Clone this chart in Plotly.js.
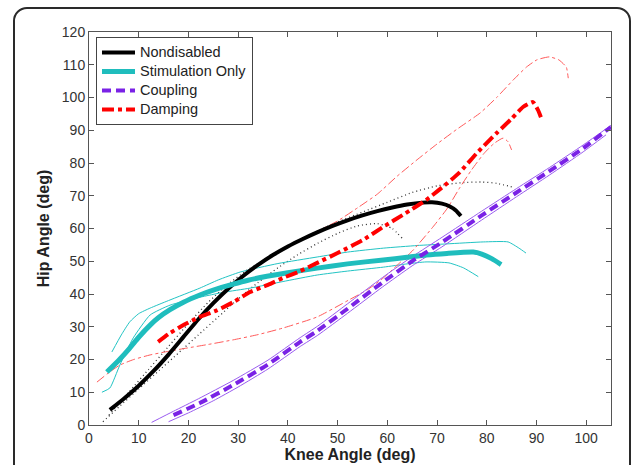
<!DOCTYPE html>
<html>
<head>
<meta charset="utf-8">
<script src="https://cdn.plot.ly/plotly-3.0.1.min.js"></script>
<style>
  html, body { margin: 0; padding: 0; background: #fff; }
  #wrap { position: relative; width: 636px; height: 465px; overflow: hidden; }
  #frame { position: absolute; left: 13px; top: 7px; width: 618px; height: 480px;
           border: 2px solid #2a2a2a; border-radius: 14px; box-sizing: border-box; }
  #chart { position: absolute; left: 0; top: 0; width: 636px; height: 465px; }
</style>
</head>
<body>
<div id="wrap">
  <div id="frame"></div>
  <div id="chart"></div>
</div>
<script>
// Nondisabled mean
const ndX = [4.2, 7, 10, 13, 16, 19, 22, 25, 28, 31, 34, 37, 40, 43, 46, 49, 52, 55, 58, 61, 64, 67, 69, 71, 72.5, 73.8, 74.8];
const ndY = [4.6, 8.0, 12.0, 16.5, 21.5, 26.9, 32.3, 37.2, 41.6, 45.5, 48.9, 51.9, 54.5, 56.8, 58.9, 60.8, 62.5, 64.0, 65.3, 66.4, 67.3, 67.9, 68.0, 67.6, 66.8, 65.5, 63.8];
// Nondisabled band (dotted)
const ndUpX = [4, 8, 12, 16, 20, 24, 28, 32, 36, 40, 45, 50, 55, 60, 65, 70, 75, 79, 82, 85.5];
const ndUpY = [3, 10, 17, 24, 31, 37.5, 43, 47.5, 51, 54.5, 58.5, 62, 65, 68, 71, 73, 74, 74.2, 73.8, 72.5];
const ndLoX = [2.8, 6, 10, 14, 18, 22, 26, 30, 34, 38, 42, 46, 50, 54, 58, 61, 63];
const ndLoY = [1, 5.5, 11, 16.5, 22, 27.5, 33, 38.5, 43.5, 48, 52, 55.5, 58.5, 60.8, 61.5, 60, 57];
// Stimulation Only
const stX = [3.6, 6, 8.2, 10, 12.3, 14, 16.3, 19, 22.3, 25, 29, 32, 35.8, 40, 45.9, 52, 59.2, 64, 67.8, 72, 77.3, 79, 81, 82.9];
const stY = [16.2, 19.8, 23.5, 26.8, 30.5, 32.8, 35.2, 37.5, 39.7, 41.2, 43.0, 44.2, 45.4, 46.5, 47.9, 49.2, 50.4, 51.2, 51.9, 52.4, 52.8, 52.2, 50.8, 49];
const stUpX = [4.6, 6.5, 8.2, 10, 12.3, 16, 22.3, 26, 30.4, 38, 45.9, 52, 59.2, 66, 72, 79.3, 84.3, 86.5, 87.9];
const stUpY = [22.3, 27.5, 31.5, 34, 35.7, 38, 41.8, 44.3, 46.7, 49.3, 51.3, 52.8, 54, 54.8, 55.3, 55.9, 55.9, 54, 52.5];
const stLoX = [2.6, 4.2, 6.2, 8.9, 12.3, 16.3, 22.3, 27, 32.4, 39, 45.9, 52, 59.2, 64, 67.8, 72.4, 75.3, 78.3];
const stLoY = [10, 11.3, 18.3, 26.6, 33.6, 36.6, 39, 40.5, 41.8, 43.8, 45.8, 47, 48.2, 49.2, 49.8, 49.5, 48, 45.3];
// Coupling
const cpX = [17, 22.3, 29, 35.8, 42.5, 45.7, 52, 59, 65, 71.2, 79, 86, 92.6, 99.4, 105];
const cpY = [3, 6.7, 12.2, 18.3, 25.4, 28.5, 35.5, 43.5, 50, 56, 64, 71, 77.5, 84.5, 91];
const cpUpX = [12.6, 17, 22, 29, 36, 42.5, 46, 52, 59, 65, 71, 79, 86, 92.6, 99.4, 105];
const cpUpY = [0.8, 4.2, 8, 13.6, 19.8, 26.7, 30.2, 37, 45, 51.4, 57.3, 65.3, 72.2, 78.6, 85.5, 91.5];
const cpLoX = [16, 20, 25, 30, 36, 42.5, 46, 52, 59, 65, 71, 79, 86, 92.6, 99.4, 104];
const cpLoY = [1, 3.7, 7.4, 11.6, 17.1, 24, 27.4, 34.1, 42.1, 48.6, 54.4, 62.6, 69.7, 76.3, 83.4, 88.6];
// Damping
const dpX = [13.9, 16, 19, 22, 25.7, 29, 32.4, 36, 39, 42.5, 45.9, 50, 55.1, 59.2, 63.5, 67.8, 71, 74.4, 78, 81.9, 85, 87.3, 89.3, 90.3, 90.9];
const dpY = [25.4, 27.8, 30.5, 32.8, 35, 37.5, 40.6, 42.8, 44.9, 47, 49.5, 52.5, 56.5, 60.5, 64.5, 68.7, 72.5, 76.9, 83, 89, 93.5, 97.1, 98.6, 96.2, 94];
const dpUpX = [22, 26, 30, 34, 38, 42, 46, 50, 54.3, 58, 62, 66, 70, 74, 78.7, 82, 85.3, 88, 90.1, 92.6, 94.5, 96, 96.4];
const dpUpY = [32.5, 38.5, 44.2, 48.7, 52.6, 56, 59.2, 62.3, 66.6, 70.5, 76, 81, 85.8, 90.3, 95.3, 100, 105.3, 109.3, 111.5, 112.4, 111.5, 109.3, 105.9];
const dpLoX = [1.6, 4, 6.2, 9, 12.3, 16, 19.7, 24, 29, 34, 39, 45.9, 52.3, 56, 59.2, 62, 65.2, 69.2, 72, 74.6, 77, 79.5, 81.5, 83.3, 84.3, 85];
const dpLoY = [13.1, 16, 18.3, 20, 21.4, 22.5, 23.5, 24.6, 26, 27.6, 29.6, 33, 38.2, 41.3, 44.9, 48.8, 53.4, 60.5, 66, 72.5, 78, 83, 86, 87.6, 86.5, 84];

const names = ['Nondisabled', 'Stimulation Only', 'Coupling', 'Damping'];
const xTicks = [0, 10, 20, 30, 40, 50, 60, 70, 80, 90, 100];
const yTicks = [0, 10, 20, 30, 40, 50, 60, 70, 80, 90, 100, 110, 120];

const BLACK = '#000000', CYAN = '#1fbdbd', PURPLE = '#7a22e6', RED = '#ff0000';
const FAM = '"Liberation Sans", Arial, sans-serif';

function label(s) { return '<span style="font-size:14.5px">' + s + '</span>'; }

function thin(x, y, color, dash, width) {
  return {x: x, y: y, type: 'scatter', mode: 'lines', showlegend: false, hoverinfo: 'skip',
          line: {color: color, width: width || 1, dash: dash, shape: 'spline', smoothing: 0.5}};
}
function thick(x, y, color, dash, width, name, rank) {
  return {x: x, y: y, type: 'scatter', mode: 'lines', name: label(name), legendrank: rank,
          line: {color: color, width: width, dash: dash, shape: 'spline', smoothing: 0.5}};
}

const data = [
  thin(ndUpX, ndUpY, '#333', '1px,3px', 1.3),
  thin(ndLoX, ndLoY, '#333', '1px,3px', 1.3),
  thin(stUpX, stUpY, '#22c4c4', 'solid'),
  thin(stLoX, stLoY, '#22c4c4', 'solid'),
  thin(dpUpX, dpUpY, '#ff5a5a', 'dashdot'),
  thin(dpLoX, dpLoY, '#ff5a5a', 'dashdot'),
  thin(cpUpX, cpUpY, '#9a5cf0', 'solid'),
  thin(cpLoX, cpLoY, '#9a5cf0', 'solid'),
  thick(ndX, ndY, BLACK, 'solid', 4, names[0], 1),
  thick(stX, stY, CYAN, 'solid', 5, names[1], 2),
  thick(cpX, cpY, PURPLE, '9px,5px', 4, names[2], 3),
  thick(dpX, dpY, RED, 'dashdot', 4, names[3], 4)
];

const tickFont = {family: FAM, size: 14, color: '#333'};
const axisCommon = {
  showline: true, linecolor: '#555', linewidth: 1, mirror: 'ticks',
  ticks: 'inside', ticklen: 5, tickcolor: '#555', tickwidth: 1,
  showgrid: false, zeroline: false, tickfont: tickFont
};

const layout = {
  width: 636, height: 465,
  margin: {l: 89, r: 25, t: 32, b: 40, pad: 0},
  paper_bgcolor: 'rgba(0,0,0,0)', plot_bgcolor: '#fff',
  font: tickFont,
  showlegend: true,
  legend: {
    x: 0.0134, y: 0.987, xanchor: 'left', yanchor: 'top',
    bgcolor: '#fff', bordercolor: '#444', borderwidth: 1,
    font: {family: FAM, size: 12.3, color: '#222'},
    tracegroupgap: 0, itemwidth: 33
  },
  xaxis: Object.assign({}, axisCommon, {
    range: [0, 105], tickvals: xTicks, ticktext: xTicks.map(String),
    title: {text: '<b>Knee Angle (deg)</b>', standoff: 4,
            font: {family: FAM, size: 16, color: '#222'}}
  }),
  yaxis: Object.assign({}, axisCommon, {
    range: [0, 120], tickvals: yTicks, ticktext: yTicks.map(String),
    title: {text: '<b>Hip Angle (deg)</b>', standoff: 8,
            font: {family: FAM, size: 16, color: '#222'}}
  })
};

Plotly.newPlot('chart', data, layout, {staticPlot: true, displayModeBar: false});
</script>
</body>
</html>
